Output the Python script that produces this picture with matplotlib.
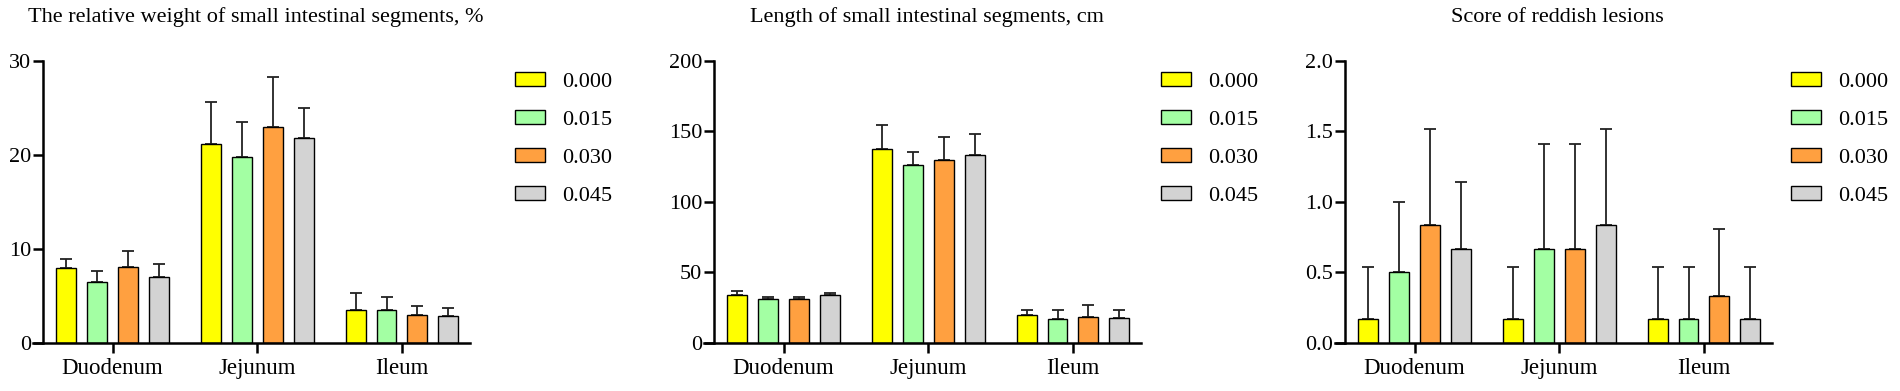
import matplotlib
matplotlib.use("Agg")
from matplotlib import pyplot as plt
from matplotlib.patches import Patch
import numpy as np

plt.rcParams['font.family'] = ['Liberation Serif', 'DejaVu Serif']

segments = ['Duodenum', 'Jejunum', 'Ileum']
levels = ['0.000', '0.015', '0.030', '0.045']
colors = ['#FFFF00', '#A3FFA3', '#FFA040', '#D3D3D3']

# relative weight, %  (mean / SD), rows = levels, cols = segments
weight_mean = [[7.9, 21.2, 3.5],
               [6.4, 19.8, 3.5],
               [8.0, 23.0, 2.9],
               [7.0, 21.8, 2.8]]
weight_sd = [[1.05, 4.4, 1.8],
             [1.2, 3.7, 1.4],
             [1.7, 5.3, 0.95],
             [1.35, 3.15, 0.9]]

# length, cm
length_mean = [[33.4, 137.2, 19.4],
               [30.6, 126.3, 16.4],
               [30.6, 129.4, 18.2],
               [33.4, 133.2, 17.3]]
length_sd = [[3.3, 17.3, 3.8],
             [1.9, 9.0, 6.8],
             [1.9, 16.3, 8.3],
             [1.9, 15.1, 5.9]]

# reddish lesions score
score_mean = [[0.167, 0.167, 0.167],
              [0.5, 0.667, 0.167],
              [0.833, 0.667, 0.333],
              [0.667, 0.833, 0.167]]
score_sd = [[0.372, 0.372, 0.372],
            [0.5, 0.745, 0.372],
            [0.687, 0.745, 0.471],
            [0.471, 0.687, 0.372]]

titles = ['The relative weight of small intestinal segments, %',
          'Length of small intestinal segments, cm',
          'Score of reddish lesions']
yticks = [[0, 10, 20, 30], [0, 50, 100, 150, 200], [0.0, 0.5, 1.0, 1.5, 2.0]]
ytick_labels = [['0', '10', '20', '30'], ['0', '50', '100', '150', '200'],
                ['0.0', '0.5', '1.0', '1.5', '2.0']]
panels = [(weight_mean, weight_sd), (length_mean, length_sd), (score_mean, score_sd)]

W, H = 1900, 391
fig = plt.figure(figsize=(W / 100, H / 100), dpi=100)

ax_left_px = [33, 704, 1335]
ax_w_px = 437
ax_bottom_px = 391 - 342.5
ax_h_px = 281.5
legend_x_px = [515, 1161, 1791]

step = 0.214
bar_w = 0.138
x = np.arange(len(segments))

for k, (mean, sd) in enumerate(panels):
    ax = fig.add_axes([ax_left_px[k] / W, ax_bottom_px / H, ax_w_px / W, ax_h_px / H])
    mean = np.array(mean)
    sd = np.array(sd)
    for i in range(len(levels)):
        pos = x + (i - 1.5) * step
        ax.bar(pos, mean[i], width=bar_w, color=colors[i], edgecolor='black',
               linewidth=1.0, zorder=2)
        ax.errorbar(pos, mean[i], yerr=[np.zeros(3), sd[i]], fmt='none',
                    ecolor='#222222', elinewidth=1.3, capsize=4.5, capthick=1.3,
                    zorder=1)
    ax.set_xlim(-0.55, 2.47)
    ax.set_ylim(yticks[k][0], yticks[k][-1])
    ax.set_yticks(yticks[k])
    ax.set_yticklabels(ytick_labels[k])
    ax.set_xticks(x)
    ax.set_xticklabels(segments)
    for s in ['top', 'right']:
        ax.spines[s].set_visible(False)
    ax.spines['left'].set_position(('data', -0.48))
    ax.spines['left'].set_linewidth(1.8)
    ax.spines['bottom'].set_linewidth(1.8)
    ax.tick_params(axis='y', length=7, width=1.8, labelsize=16, pad=1.5)
    ax.tick_params(axis='x', length=7.5, width=1.8, labelsize=16.5, pad=4)
    ax.set_facecolor('none')

    handles = [Patch(facecolor=c, edgecolor='black', linewidth=1.0) for c in colors]
    fig.legend(handles, levels, loc='upper left',
               bbox_to_anchor=(legend_x_px[k] / W, 1 - 72 / H),
               frameon=False, fontsize=16, handlelength=1.35, handleheight=0.6,
               handletextpad=0.75, labelspacing=0.82, borderpad=0, borderaxespad=0)

    fig.text((ax_left_px[k] + ax_w_px / 2 + 4) / W, 1 - 17 / H, titles[k],
             ha='center', va='center', fontsize=16)

fig.savefig('out.png', dpi=100)
